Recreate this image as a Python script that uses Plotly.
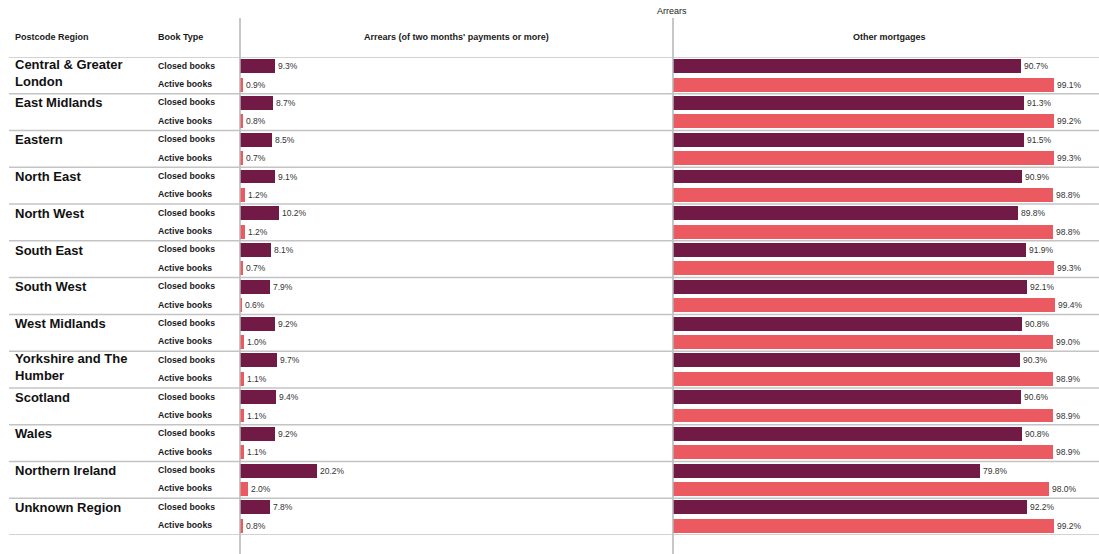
import textwrap
import plotly.graph_objects as go

regions = ["Central & Greater London", "East Midlands", "Eastern", "North East", "North West",
           "South East", "South West", "West Midlands", "Yorkshire and The Humber", "Scotland",
           "Wales", "Northern Ireland", "Unknown Region"]
book_types = ["Closed books", "Active books"]
arrears_closed = [9.3, 8.7, 8.5, 9.1, 10.2, 8.1, 7.9, 9.2, 9.7, 9.4, 9.2, 20.2, 7.8]
arrears_active = [0.9, 0.8, 0.7, 1.2, 1.2, 0.7, 0.6, 1.0, 1.1, 1.1, 1.1, 2.0, 0.8]
other_closed = [90.7, 91.3, 91.5, 90.9, 89.8, 91.9, 92.1, 90.8, 90.3, 90.6, 90.8, 79.8, 92.2]
other_active = [99.1, 99.2, 99.3, 98.8, 98.8, 99.3, 99.4, 99.0, 98.9, 98.9, 98.9, 98.0, 99.2]

col_headers = ["Postcode Region", "Book Type", "Arrears (of two months' payments or more)", "Other mortgages"]
top_title = "Arrears"

W, H = 1099, 554
CLOSED = "#701a45"
ACTIVE = "#eb5a61"
FONT = "Liberation Sans, Arial, sans-serif"

n = len(regions)
y_closed = [2 * i for i in range(n)]
y_active = [2 * i + 1 for i in range(n)]

def px(v):
    return v / W

def py(v):
    return 1 - v / H

fig = go.Figure()
for xs, ys, col, xa in [
    (arrears_closed, y_closed, CLOSED, "x"),
    (arrears_active, y_active, ACTIVE, "x"),
    (other_closed, y_closed, CLOSED, "x2"),
    (other_active, y_active, ACTIVE, "x2"),
]:
    fig.add_trace(go.Bar(
        x=xs, y=ys, orientation="h", xaxis=xa, yaxis="y",
        marker=dict(color=col, line=dict(width=0)), width=0.76,
        text=[f"{v:.1f}%" for v in xs], textposition="outside",
        textfont=dict(family=FONT, size=8.5, color="#333333"),
        constraintext="none", cliponaxis=False, showlegend=False,
        hoverinfo="x",
    ))

shapes = []
# vertical dividers
for xv in [240, 673]:
    shapes.append(dict(type="line", xref="paper", yref="paper", x0=px(xv), x1=px(xv),
                       y0=0, y1=py(18), line=dict(color="#b5b5b5", width=1.5)))
# horizontal separators
for i in range(n + 1):
    shapes.append(dict(type="line", xref="paper", yref="y", x0=px(9), x1=1,
                       y0=2 * i - 0.5, y1=2 * i - 0.5, line=dict(color="#c4c4c4", width=1.5)))

ann = []
# headers
hdr_y = py(37)
ann.append(dict(text=f"<b>{col_headers[0]}</b>", x=px(13), y=hdr_y, xanchor="left"))
ann.append(dict(text=f"<b>{col_headers[1]}</b>", x=px(156), y=hdr_y, xanchor="left"))
ann.append(dict(text=f"<b>{col_headers[2]}</b>", x=px(456), y=hdr_y, xanchor="center"))
ann.append(dict(text=f"<b>{col_headers[3]}</b>", x=px(889), y=hdr_y, xanchor="center"))
ann.append(dict(text=top_title, x=px(672), y=py(11), xanchor="center"))
for a in ann:
    a.update(xref="paper", yref="paper", yanchor="middle", showarrow=False,
             font=dict(family=FONT, size=9, color="#1a1a1a"))

for i, r in enumerate(regions):
    lines = textwrap.wrap(r, width=17)
    ann.append(dict(text="<b>" + "<br>".join(lines) + "</b>", xref="paper", yref="y",
                    x=px(13), y=2 * i + 0.38 * (len(lines) - 1), xanchor="left", yanchor="middle",
                    showarrow=False, align="left",
                    font=dict(family=FONT, size=13, color="#111111")))
    for j, bt in enumerate(book_types):
        ann.append(dict(text=f"<b>{bt}</b>", xref="paper", yref="y", x=px(156), y=2 * i + j - 0.03,
                        xanchor="left", yanchor="middle", showarrow=False,
                        font=dict(family=FONT, size=8.7, color="#1a1a1a")))

fig.update_layout(
    width=W, height=H, margin=dict(l=0, r=0, t=0, b=0),
    paper_bgcolor="white", plot_bgcolor="white",
    bargap=0, barmode="overlay",
    xaxis=dict(domain=[px(240), px(673)], range=[0, 114], visible=False, fixedrange=True),
    xaxis2=dict(domain=[px(673), 1], range=[0, 110.9], visible=False, fixedrange=True),
    yaxis=dict(domain=[py(535), py(57)], range=[2 * n - 0.5, -0.5], visible=False, fixedrange=True),
    shapes=shapes, annotations=ann, font=dict(family=FONT),
)

fig.write_html("out.html")
